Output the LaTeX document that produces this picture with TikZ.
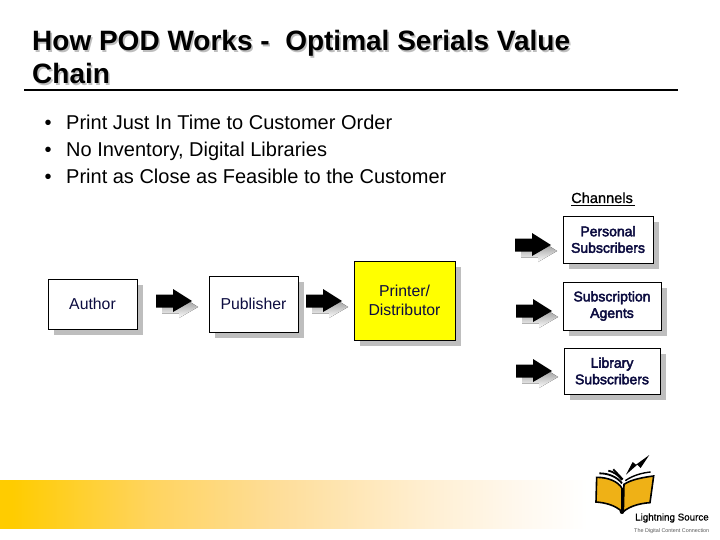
\documentclass[tikz,border=0pt]{standalone}
\usepackage{fontspec}
\setmainfont{Liberation Sans}
\newfontfamily\fakebold[FakeBold=3]{Liberation Sans}
\newfontfamily\semibold[FakeBold=0.8]{Liberation Sans}
\usetikzlibrary{shadows}
\definecolor{shade}{HTML}{BEBEBE}
\definecolor{navy}{HTML}{0C0C40}
\definecolor{ppr}{HTML}{FFFF00}
\definecolor{gold}{HTML}{EFB116}
\definecolor{bandA}{HTML}{FFCC00}
\definecolor{bandB}{HTML}{FFD460}
\definecolor{bandC}{HTML}{FEDD98}
\definecolor{bandD}{HTML}{FFEFD2}
\definecolor{bandE}{HTML}{FFF9F0}
\pgfdeclarehorizontalshading{bandshade}{100bp}{
  color(0bp)=(bandA); color(26bp)=(bandA); color(37.5bp)=(bandB); color(47.5bp)=(bandC);
  color(60bp)=(bandD); color(68bp)=(bandE); color(73bp)=(white); color(100bp)=(white)}
\tikzset{
  box/.style={draw=black,line width=0.9pt,fill=white,align=center,inner sep=0pt,outer sep=0pt,
    text=navy,font=\fontsize{15.8}{19.5}\selectfont,
    general shadow={fill=shade,shadow xshift=6pt,shadow yshift=-6pt}},
  chbox/.style={box,font=\fakebold\fontsize{14}{16.5}\selectfont},
  bul/.style={anchor=base west,inner sep=0pt,font=\fontsize{20}{22}\selectfont,text=black},
  ttl/.style={anchor=base west,inner sep=0pt,font=\bfseries\fontsize{28}{30}\selectfont},
  blockarrow/.pic={
    \fill[shade] (6,-0.5) -- (23,-0.5) -- (23,-6) -- (42,6) -- (23,17) -- (23,12.5) -- (6,12.5) -- cycle;
    \fill[black] (0,-6.5) -- (17,-6.5) -- (17,-12) -- (36,0) -- (17,11) -- (17,6.5) -- (0,6.5) -- cycle;
  }
}
\begin{document}
\begin{tikzpicture}[x=1pt,y=-1pt]
\useasboundingbox (0,0) rectangle (720,540);
% bottom band
\shade[shading=bandshade] (0,480) rectangle (612,528);
% title
\foreach \c/\d in {shade/1.6,black/0}{
  \node[ttl,text=\c] (t1\c) at (32+\d,51+\d) {How POD Works -\ \ Optimal Serials Value};
  \node[ttl,text=\c] (t2\c) at (32+\d,84+\d) {Chain};
}
\coordinate (ruleL) at (24,90.5);
\coordinate (ruleR) at (678,90.5);
\draw[line width=2pt] (ruleL) -- (ruleR);
% bullets
\node[bul] (b1) at (44.5,129.6) {•};
\node[bul] (b2) at (44.5,156.6) {•};
\node[bul] (b3) at (44.5,183.6) {•};
\node[bul] (l1) at (66,129.6) {Print Just In Time to Customer Order};
\node[bul] (l2) at (66,156.6) {No Inventory, Digital Libraries};
\node[bul] (l3) at (66,183.6) {Print as Close as Feasible to the Customer};
% channels heading
\node[anchor=base west,inner sep=0pt,font=\semibold\fontsize{14.6}{16}\selectfont] (ch) at (571,203) {Channels};
\coordinate (chL) at (571,205.5);
\coordinate (chR) at (634.5,205.5);
\draw[line width=0.8pt] (chL) -- (chR);
% boxes
\node[box,minimum width=89pt,minimum height=50pt] (author) at (92.5,304) {Author};
\node[box,minimum width=89pt,minimum height=56pt] (publisher) at (253.5,304) {Publisher};
\node[box,fill=ppr,minimum width=101pt,minimum height=79pt] (printer) at (404.5,300.5) {Printer/\\Distributor};
\node[chbox,minimum width=90pt,minimum height=47pt] (personal) at (608,239.5) {Personal\\Subscribers};
\node[chbox,minimum width=98pt,minimum height=48pt] (agents) at (612,306) {Subscription\\Agents};
\node[chbox,minimum width=96pt,minimum height=46pt] (library) at (612,371) {Library\\Subscribers};
% block arrows
\pic at (156,301) {blockarrow};
\pic at (306,301) {blockarrow};
\pic at (515,245) {blockarrow};
\pic at (516,311) {blockarrow};
\pic at (516,371) {blockarrow};
% logo
\fill[white] (594,452) rectangle (720,540);
\begin{scope}[shift={(560,440)},x=0.3333pt,y=-0.3333pt]
  \draw[line width=1.6pt,fill=gold] (110,112) .. controls (145,112) and (175,125) .. (186,145) -- (186,215) .. controls (165,195) and (135,188) .. (108,186) -- cycle;
  \draw[line width=1.6pt,fill=gold] (192,133) .. controls (215,118) and (250,112) .. (281,108) -- (270,188) .. controls (240,190) and (210,198) .. (190,215) -- cycle;
  \draw[line width=1.8pt] (118,100) .. controls (145,100) and (170,110) .. (186,130);
  \draw[line width=1.8pt] (145,92) .. controls (160,95) and (175,105) .. (186,120);
  \draw[line width=1.8pt] (160,88) -- (188,118);
  \draw[line width=1.4pt] (196,122) .. controls (220,105) and (250,98) .. (272,96);
  \fill[black] (186,215) circle (7);
  \fill[black] (198,104) -- (218,66) -- (228,74) -- (268,45) -- (242,84) -- (232,74) -- cycle;
\end{scope}
\node[anchor=base west,inner sep=0pt,font=\semibold\fontsize{9.8}{12}\selectfont] (lsname) at (635,520.5) {Lightning Source};
\node[anchor=base west,inner sep=0pt,text=black!65,font=\fontsize{5.4}{8}\selectfont] (lstag) at (634,532) {The Digital Content Connection};
\end{tikzpicture}
\end{document}
